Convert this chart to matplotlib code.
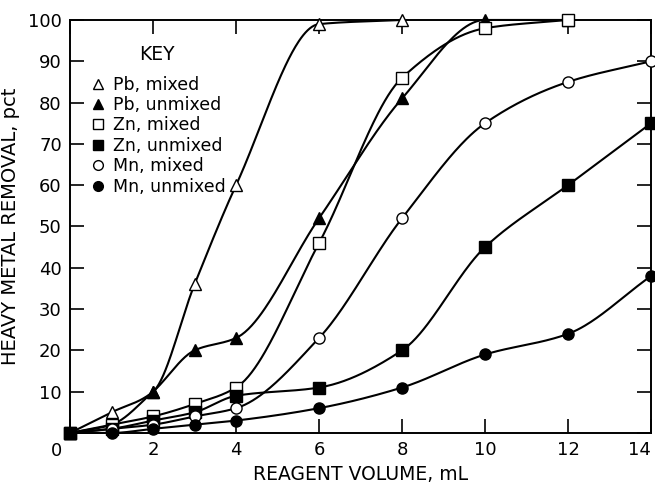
import numpy as np
import matplotlib
matplotlib.use("Agg")
import matplotlib.pyplot as plt

plt.rcParams["font.family"] = ["DejaVu Sans"]

# data (reagent volume mL -> removal pct)
pb_mix_x = [0, 1, 2, 3, 4, 6, 8]
pb_mix_y = [0, 5, 10, 36, 60, 99, 100]
pb_unm_x = [0, 1, 2, 3, 4, 6, 8, 10, 12]
pb_unm_y = [0, 2, 10, 20, 23, 52, 81, 100, 100]
zn_mix_x = [0, 1, 2, 3, 4, 6, 8, 10, 12]
zn_mix_y = [0, 2, 4, 7, 11, 46, 86, 98, 100]
zn_unm_x = [0, 1, 2, 3, 4, 6, 8, 10, 12, 14]
zn_unm_y = [0, 1, 3, 5, 9, 11, 20, 45, 60, 75]
mn_mix_x = [0, 1, 2, 3, 4, 6, 8, 10, 12, 14]
mn_mix_y = [0, 1, 2, 4, 6, 23, 52, 75, 85, 90]
mn_unm_x = [0, 1, 2, 3, 4, 6, 8, 10, 12, 14]
mn_unm_y = [0, 0, 1, 2, 3, 6, 11, 19, 24, 38]

x_ticks = [0, 2, 4, 6, 8, 10, 12, 14]
x_labels = ["", "2", "4", "6", "8", "10", "12", "14"]
y_ticks = [0, 10, 20, 30, 40, 50, 60, 70, 80, 90, 100]
y_labels = ["", "10", "20", "30", "40", "50", "60", "70", "80", "90", "100"]


def pchip(x, y, n=300):
    # monotone cubic curve through the points, only used for drawing
    x = np.asarray(x, float); y = np.asarray(y, float)
    h = np.diff(x); d = np.diff(y) / h
    m = np.zeros_like(y)
    for k in range(1, len(x) - 1):
        if d[k - 1] * d[k] > 0:
            w1 = 2 * h[k] + h[k - 1]; w2 = h[k] + 2 * h[k - 1]
            m[k] = (w1 + w2) / (w1 / d[k - 1] + w2 / d[k])
    m[0] = d[0]; m[-1] = d[-1]
    xs = np.linspace(x[0], x[-1], n)
    idx = np.clip(np.searchsorted(x, xs) - 1, 0, len(h) - 1)
    t = (xs - x[idx]) / h[idx]
    h00 = 2*t**3 - 3*t**2 + 1; h10 = t**3 - 2*t**2 + t
    h01 = -2*t**3 + 3*t**2;    h11 = t**3 - t**2
    ys = h00*y[idx] + h10*h[idx]*m[idx] + h01*y[idx+1] + h11*h[idx]*m[idx+1]
    return xs, ys


series = [
    (pb_mix_x, pb_mix_y, "^", "white", "Pb, mixed"),
    (pb_unm_x, pb_unm_y, "^", "black", "Pb, unmixed"),
    (zn_mix_x, zn_mix_y, "s", "white", "Zn, mixed"),
    (zn_unm_x, zn_unm_y, "s", "black", "Zn, unmixed"),
    (mn_mix_x, mn_mix_y, "o", "white", "Mn, mixed"),
    (mn_unm_x, mn_unm_y, "o", "black", "Mn, unmixed"),
]

fig = plt.figure(figsize=(6.55, 4.87), dpi=100)
ax = fig.add_axes([0.107, 0.111, 0.887, 0.848])

handles = []
for x, y, mk, fc, lab in series:
    xs, ys = pchip(x, y)
    ax.plot(xs, ys, color="black", lw=1.5, zorder=2, clip_on=False)
    ax.plot(x, y, ls="none", marker=mk, ms=8, mfc=fc, mec="black", mew=1.0,
            zorder=3, clip_on=False)
    h, = ax.plot([], [], ls="none", marker=mk, ms=7, mfc=fc, mec="black", mew=1.0, label=lab)
    handles.append(h)

ax.set_xlim(0, 14)
ax.set_ylim(0, 100)
ax.set_xticks(x_ticks)
ax.set_xticklabels(x_labels)
ax.set_yticks(y_ticks)
ax.set_yticklabels(y_labels)
ax.tick_params(direction="in", length=10, width=1.2, top=True, right=True,
               labelsize=13, pad=6)
ax.get_xticklabels()[-1].set_ha("right")
for s in ax.spines.values():
    s.set_linewidth(1.4)
ax.text(-0.33, -4.4, "0", ha="center", va="center", fontsize=13)

ax.set_xlabel("REAGENT VOLUME, mL", fontsize=13.5, labelpad=4)
ax.set_ylabel("HEAVY METAL REMOVAL, pct", fontsize=14, labelpad=6)

leg = ax.legend(handles=handles, title="KEY", loc="upper left",
                bbox_to_anchor=(0.02, 0.955), frameon=False, fontsize=12.5,
                title_fontsize=13.5, handletextpad=0.3, labelspacing=0.14,
                borderaxespad=0, handlelength=1.1)
leg._legend_box.sep = 8

fig.savefig("out.png", dpi=100)
